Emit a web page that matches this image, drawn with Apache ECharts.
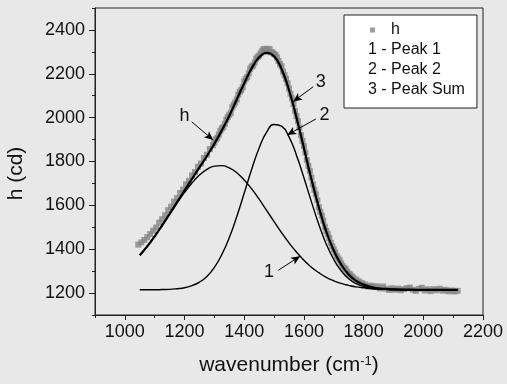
<!DOCTYPE html>
<html>
<head>
<meta charset="utf-8">
<script src="https://cdn.jsdelivr.net/npm/echarts@6/dist/echarts.min.js"></script>
<style>
  html, body { margin: 0; padding: 0; background: #e8e8e8; }
  #chart { width: 507px; height: 384px; }
</style>
</head>
<body>
<div id="chart"></div>
<script>
// fitted curves, sampled along wavenumber
const fitX = [1050, 1075, 1100, 1125, 1150, 1175, 1200, 1225, 1250, 1275,
  1300, 1325, 1350, 1375, 1400, 1425, 1450, 1475, 1500, 1525,
  1550, 1575, 1600, 1625, 1650, 1675, 1700, 1725, 1750, 1775,
  1800, 1825, 1850, 1875, 1900, 1925, 1950, 1975, 2000, 2025,
  2050, 2075, 2100, 2115]
const peak1 = [1373, 1413, 1459, 1508, 1559, 1610, 1659, 1702, 1738, 1764,
  1779, 1781, 1771, 1749, 1716, 1675, 1628, 1577, 1526, 1476,
  1429, 1387, 1350, 1318, 1293, 1272, 1256, 1244, 1235, 1228,
  1224, 1221, 1218, 1217, 1216, 1216, 1215, 1215, 1215, 1215,
  1215, 1215, 1215, 1215]
const peak2 = [1215, 1215, 1215, 1216, 1217, 1220, 1224, 1234, 1250, 1276,
  1317, 1376, 1453, 1549, 1656, 1765, 1862, 1934, 1969, 1961,
  1912, 1829, 1726, 1617, 1513, 1423, 1353, 1301, 1265, 1243,
  1230, 1222, 1218, 1217, 1216, 1215, 1215, 1215, 1215, 1215,
  1215, 1215, 1215, 1215]
const peakSum = [1373, 1413, 1459, 1509, 1561, 1615, 1668, 1721, 1773, 1825,
  1881, 1942, 2009, 2083, 2157, 2225, 2275, 2296, 2280, 2222,
  2126, 2001, 1861, 1720, 1591, 1480, 1394, 1330, 1285, 1256,
  1239, 1228, 1221, 1219, 1217, 1216, 1216, 1215, 1215, 1215,
  1215, 1215, 1215, 1215]

// measured h
const hX = [1045, 1055, 1065, 1075, 1085, 1095, 1105, 1115, 1125, 1135,
  1145, 1155, 1165, 1175, 1185, 1195, 1205, 1215, 1225, 1235,
  1245, 1255, 1265, 1275, 1285, 1295,
  1300, 1305, 1310, 1315, 1320, 1325, 1330, 1335, 1340, 1345,
  1350, 1355, 1360, 1365, 1370, 1375, 1380, 1385, 1390, 1395,
  1400, 1405, 1410, 1415, 1420, 1425, 1430, 1435, 1440, 1445,
  1450, 1455, 1460, 1465, 1470, 1475, 1480, 1485, 1490, 1495,
  1500, 1505, 1510, 1515, 1520, 1525, 1530, 1535, 1540, 1545,
  1550, 1555, 1560, 1565, 1570, 1575, 1580, 1585, 1590, 1595,
  1600, 1605, 1610, 1615, 1620, 1625, 1630, 1635, 1640, 1645,
  1650, 1655, 1660, 1665, 1670, 1675, 1680, 1685, 1690, 1695,
  1700, 1705, 1710, 1715, 1720, 1725, 1730, 1735, 1740, 1745,
  1750, 1755, 1760,
  1765, 1775, 1785, 1795, 1805, 1815, 1825, 1835, 1845, 1855,
  1865, 1875, 1885, 1895, 1905, 1915, 1925, 1935, 1945, 1955,
  1965, 1975, 1985, 1995, 2005, 2015, 2025, 2035, 2045, 2055,
  2065, 2075, 2085, 2095, 2105, 2115]
const hY = [1421, 1431, 1442, 1455, 1469, 1485, 1499, 1521, 1537, 1555,
  1578, 1594, 1617, 1633, 1656, 1672, 1696, 1712, 1736, 1752,
  1776, 1791, 1816, 1831, 1857, 1874,
  1887, 1901, 1908, 1923, 1940, 1951, 1957, 1972, 1991, 2003,
  2013, 2022, 2047, 2059, 2069, 2083, 2105, 2118, 2126, 2139,
  2165, 2177, 2185, 2202, 2223, 2233, 2238, 2251, 2269, 2277,
  2283, 2294, 2305, 2313, 2302, 2314, 2300, 2313, 2298, 2297,
  2290, 2286, 2274, 2258, 2244, 2234, 2211, 2194, 2177, 2157,
  2133, 2109, 2088, 2061, 2031, 2007, 1984, 1955, 1921, 1894,
  1870, 1841, 1807, 1780, 1756, 1727, 1696, 1671, 1650, 1623,
  1592, 1571, 1553, 1530, 1503, 1483, 1469, 1451, 1429, 1413,
  1399, 1385, 1369, 1358, 1349, 1335, 1323, 1315, 1310, 1298,
  1288, 1285, 1276,
  1270, 1262, 1253, 1245, 1239, 1230, 1234, 1228, 1231, 1221,
  1230, 1220, 1214, 1222, 1215, 1220, 1213, 1218, 1222, 1225,
  1215, 1210, 1219, 1224, 1212, 1217, 1209, 1218, 1213, 1220,
  1211, 1215, 1208, 1212, 1207, 1210]

const xLabels = [1000, 1200, 1400, 1600, 1800, 2000, 2200]
const yLabels = [1200, 1400, 1600, 1800, 2000, 2200, 2400]

const pairs = (xs, ys) => xs.map((x, i) => [x, ys[i]])
const plain = v => String(v)
const font = 'Liberation Sans'
const ink = '#111'
const axisColor = '#222'

const chart = echarts.init(document.getElementById('chart'))
const option = {
  animation: false,
  backgroundColor: '#e8e8e8',
  grid: {
    left: 95, right: 24, top: 8, bottom: 69,
    show: true, borderColor: axisColor, borderWidth: 1,
    outerBoundsMode: 'none'
  },
  legend: [
    {
      data: [{ name: 'h', icon: 'rect' }],
      left: 370, top: 22, padding: 0, z: 10,
      itemWidth: 5, itemHeight: 5,
      selectedMode: false,
      textStyle: { fontSize: 16, fontFamily: font, color: ink, padding: [0, 0, 0, 11] }
    },
    {
      data: ['1 - Peak 1', '2 - Peak 2', '3 - Peak Sum'],
      icon: 'none', orient: 'vertical',
      left: 344, top: 15, padding: [27, 12, 10, 14], z: 4,
      itemWidth: 5, itemHeight: 5, itemGap: 4,
      backgroundColor: '#fff', borderColor: axisColor, borderWidth: 1,
      selectedMode: false,
      textStyle: { fontSize: 16, fontFamily: font, color: ink }
    }
  ],
  xAxis: [
    {
      type: 'value', min: 900, max: 2200, interval: 100, position: 'bottom',
      axisLine: { show: true, lineStyle: { color: axisColor, width: 1 } },
      axisTick: { show: true, length: 3, lineStyle: { color: axisColor } },
      axisLabel: { customValues: xLabels, formatter: plain, margin: 8, fontSize: 18, fontFamily: font, color: ink },
      splitLine: { show: false },
      name: 'wavenumber (cm{sup|-1})',
      nameLocation: 'middle', nameGap: 40,
      nameTextStyle: {
        fontSize: 21, fontFamily: font, color: ink,
        rich: { sup: { fontSize: 13, fontFamily: font, color: ink, verticalAlign: 'top' } }
      }
    },
    {
      // major ticks
      type: 'value', min: 900, max: 2200, position: 'bottom',
      axisLine: { show: false },
      axisTick: { show: true, length: 5, customValues: xLabels, lineStyle: { color: axisColor } },
      axisLabel: { show: false },
      splitLine: { show: false }
    }
  ],
  yAxis: [
    {
      type: 'value', min: 1100, max: 2500, interval: 100, position: 'left',
      axisLine: { show: true, lineStyle: { color: axisColor, width: 1 } },
      axisTick: { show: true, length: 3, lineStyle: { color: axisColor } },
      axisLabel: { customValues: yLabels, formatter: plain, margin: 10, fontSize: 18, fontFamily: font, color: ink },
      splitLine: { show: false },
      name: 'h (cd)',
      nameLocation: 'middle', nameGap: 68,
      nameTextStyle: { fontSize: 21, fontFamily: font, color: ink, padding: [0, 24, 0, 0] }
    },
    {
      type: 'value', min: 1100, max: 2500, position: 'left',
      axisLine: { show: false },
      axisTick: { show: true, length: 6, customValues: yLabels, lineStyle: { color: axisColor } },
      axisLabel: { show: false },
      splitLine: { show: false }
    }
  ],
  series: [
    {
      name: 'h', type: 'scatter', data: pairs(hX, hY),
      symbol: 'rect', symbolSize: 6,
      itemStyle: { color: '#858585' },
      silent: true, z: 1
    },
    {
      name: '1 - Peak 1', type: 'line', data: pairs(fitX, peak1),
      smooth: true, showSymbol: false, silent: true, z: 3,
      lineStyle: { color: '#000', width: 1.4 }
    },
    {
      name: '2 - Peak 2', type: 'line', data: pairs(fitX, peak2),
      smooth: true, showSymbol: false, silent: true, z: 3,
      lineStyle: { color: '#000', width: 1.4 }
    },
    {
      name: '3 - Peak Sum', type: 'line', data: pairs(fitX, peakSum),
      smooth: true, showSymbol: false, silent: true, z: 4,
      lineStyle: { color: '#000', width: 2.2 },
      // arrows pointing at the curves
      markLine: {
        silent: true, animation: false,
        symbol: ['none', 'arrow'], symbolSize: [6, 9],
        lineStyle: { color: '#000', width: 1, type: 'solid' },
        label: { show: false },
        emphasis: { disabled: true },
        data: [
          [{ coord: [1224, 1981] }, { coord: [1296, 1898] }],
          [{ coord: [1631, 2141] }, { coord: [1564, 2073] }],
          [{ coord: [1640, 1994] }, { coord: [1544, 1921] }],
          [{ coord: [1514, 1304] }, { coord: [1587, 1368] }]
        ]
      },
      markPoint: {
        silent: true, animation: false,
        symbol: 'circle', symbolSize: 1,
        itemStyle: { color: 'rgba(0,0,0,0)' },
        label: { show: true, position: 'inside', formatter: '{b}', fontSize: 18, fontFamily: font, color: ink },
        data: [
          { name: 'h', coord: [1200, 2006] },
          { name: '3', coord: [1656, 2164] },
          { name: '2', coord: [1669, 2012] },
          { name: '1', coord: [1483, 1296] }
        ]
      }
    }
  ]
}
chart.setOption(option)
</script>
</body>
</html>
